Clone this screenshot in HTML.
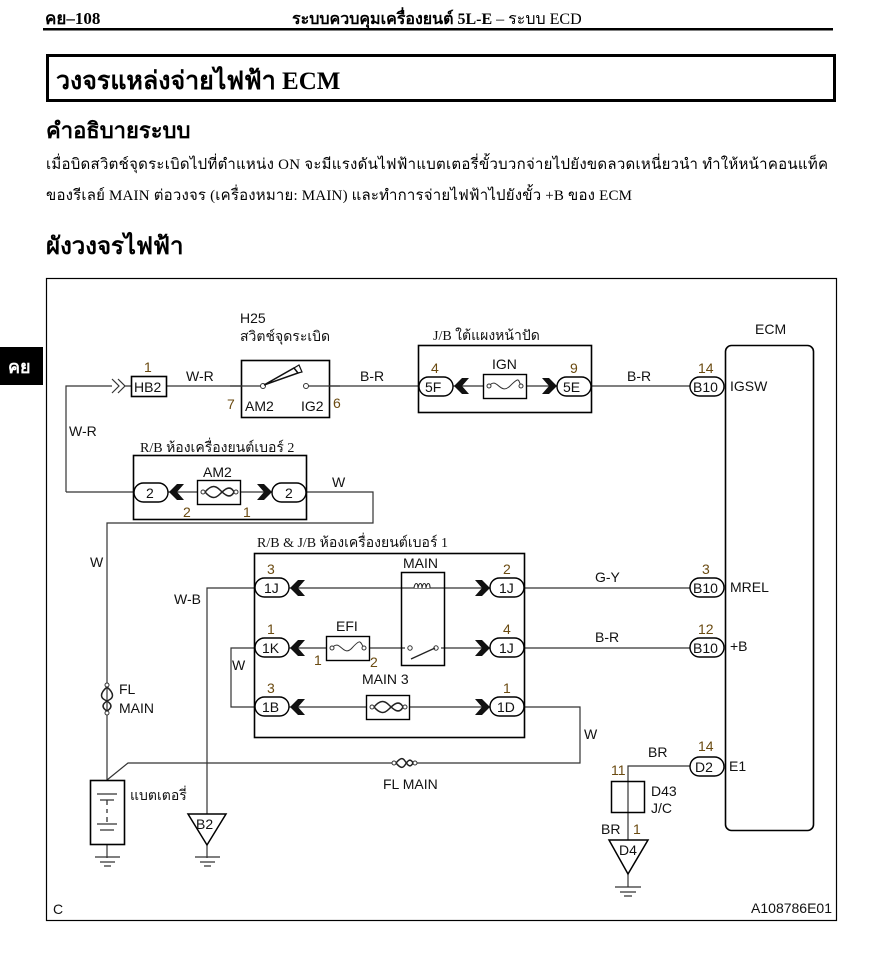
<!DOCTYPE html>
<html><head><meta charset="utf-8">
<style>
html,body{margin:0;padding:0;background:#fff;}
svg{display:block;}
.s{font-family:"Liberation Sans","Noto Sans CJK JP",sans-serif;font-size:14px;fill:#111;}
.n{font-family:"Liberation Sans",sans-serif;font-size:14px;fill:#6a4a10;}
.t{font-family:"Liberation Serif","Noto Serif CJK SC",serif;font-size:14px;fill:#111;}
</style></head>
<body>
<svg width="878" height="955" viewBox="0 0 878 955" xmlns="http://www.w3.org/2000/svg">
<defs>
<g id="chL"><path d="M0,0 L8,-8 L15,-8 L8,0 L15,8 L8,8 Z" fill="#111"/></g>
<g id="chR"><path d="M0,-8 L7,-8 L15,0 L7,8 L0,8 L7,0 Z" fill="#111"/></g>
</defs>
<!-- header -->
<text x="45" y="24" font-family="Liberation Serif,'Noto Serif CJK SC',serif" font-size="17" font-weight="bold" fill="#000">คย–108</text>
<text x="292" y="24" font-family="Liberation Serif,'Noto Serif CJK SC',serif" font-size="16" fill="#000"><tspan font-weight="bold">ระบบควบคุมเครื่องยนต์ 5L-E</tspan> – ระบบ ECD</text>
<rect x="43" y="28" width="790" height="2.5" fill="#000"/>
<rect x="47.5" y="55.5" width="787" height="45" fill="none" stroke="#000" stroke-width="3"/>
<text x="56" y="89" font-family="Liberation Serif,'Noto Serif CJK SC',serif" font-size="25" font-weight="bold" fill="#000">วงจรแหล่งจ่ายไฟฟ้า ECM</text>
<text x="46" y="138" font-family="Liberation Serif,'Noto Serif CJK SC',serif" font-size="22" font-weight="bold" fill="#000">คำอธิบายระบบ</text>
<text x="46" y="169" font-family="Liberation Serif,'Noto Serif CJK SC',serif" font-size="15" fill="#000" textLength="782">เมื่อบิดสวิตช์จุดระเบิดไปที่ตำแหน่ง ON จะมีแรงดันไฟฟ้าแบตเตอรี่ขั้วบวกจ่ายไปยังขดลวดเหนี่ยวนำ ทำให้หน้าคอนแท็ค</text>
<text x="46" y="200" font-family="Liberation Serif,'Noto Serif CJK SC',serif" font-size="15" fill="#000" textLength="586">ของรีเลย์ MAIN ต่อวงจร (เครื่องหมาย: MAIN) และทำการจ่ายไฟฟ้าไปยังขั้ว +B ของ ECM</text>
<text x="46" y="254" font-family="Liberation Serif,'Noto Serif CJK SC',serif" font-size="24" font-weight="bold" fill="#000">ผังวงจรไฟฟ้า</text>
<rect x="0" y="347" width="43" height="38" fill="#000"/>
<text x="8" y="373" font-family="Liberation Sans,'Noto Sans CJK JP',sans-serif" font-size="18" font-weight="bold" fill="#fff">คย</text>

<!-- frame -->
<rect x="46.5" y="278.5" width="790" height="642" fill="none" stroke="#000" stroke-width="1.2"/>
<text x="53" y="914" class="s" font-size="10">C</text>
<text x="832" y="913" class="s" font-size="8" text-anchor="end">A108786E01</text>

<g stroke="#333" stroke-width="1.2" fill="none">
<path d="M66,492 V386 H112"/>
<path d="M166,386 H241"/>
<path d="M329,386 H419"/>
<path d="M591,386 H690"/>
<path d="M66,492 H133"/>
<path d="M306,492 H373 V523 H107 V780"/>
<path d="M167,492 H306"/>
<path d="M453,386 H557"/>
<path d="M524,588 H690"/>
<path d="M524,648 H690"/>
<path d="M254,588 H207 V814"/>
<path d="M254,648 H231 V707 H254"/>
<path d="M524,707 H580 V763 H128 L107,780"/>
<path d="M289,588 H490"/>
<path d="M289,648 H490"/>
<path d="M289,707 H490"/>
<path d="M690,766 H628 V840"/>
<path d="M107,845 V858"/>
<path d="M207,845 V858"/>
<path d="M628,874 V887"/>
</g>
<!-- HB2 -->
<path d="M112,379 L119,386 L112,393 M118,379 L125,386 L118,393 M125,386 H131" stroke="#333" stroke-width="1.2" fill="none"/>
<rect x="131.5" y="376.5" width="35" height="20" fill="#fff" stroke="#000" stroke-width="1.6"/>
<text x="134" y="392" class="s">HB2</text>
<text x="144" y="372" class="n">1</text>
<text x="186" y="381" class="s">W-R</text>
<text x="69" y="436" class="s">W-R</text>
<!-- ignition switch -->
<rect x="241.5" y="360.5" width="88" height="57" fill="#fff" stroke="#000" stroke-width="1.6"/>
<path d="M230,386 H263 M306,386 H340" stroke="#333" stroke-width="1.2"/>
<circle cx="263" cy="386" r="2.5" fill="#fff" stroke="#333"/>
<circle cx="306" cy="386" r="2.5" fill="#fff" stroke="#333"/>
<path d="M264,385 L294,368 L298,373 Z" fill="none" stroke="#111" stroke-width="1.5"/>
<path d="M294,368 L299,365 L302,372 L298,373" fill="none" stroke="#111" stroke-width="1.2"/>
<text x="245" y="411" class="s">AM2</text>
<text x="301" y="411" class="s">IG2</text>
<text x="227" y="409" class="n">7</text>
<text x="333" y="408" class="n">6</text>
<text x="240" y="323" class="s">H25</text>
<text x="240" y="341" class="t">สวิตช์จุดระเบิด</text>
<text x="360" y="381" class="s">B-R</text>
<!-- J/B -->
<rect x="418.5" y="345.5" width="173" height="67" fill="none" stroke="#000" stroke-width="1.6"/>
<text x="433" y="340" class="t">J/B ใต้แผงหน้าปัด</text>
<rect x="419" y="377" width="34" height="19" rx="9.5" fill="#fff" stroke="#000" stroke-width="1.4"/>
<text x="425" y="392" class="s">5F</text>
<text x="431" y="373" class="n">4</text>
<use href="#chL" x="454" y="386"/>
<rect x="483.5" y="374.5" width="43" height="24" fill="#fff" stroke="#000" stroke-width="1.4"/>
<path d="M489,386 C497,376 500,396 510,386 S518,380 521,386" fill="none" stroke="#333"/>
<circle cx="489" cy="386" r="2" fill="#fff" stroke="#333"/><circle cx="521" cy="386" r="2" fill="#fff" stroke="#333"/>
<text x="492" y="369" class="s">IGN</text>
<use href="#chR" x="542" y="386"/>
<rect x="557" y="377" width="34" height="19" rx="9.5" fill="#fff" stroke="#000" stroke-width="1.4"/>
<text x="563" y="392" class="s">5E</text>
<text x="570" y="373" class="n">9</text>
<text x="627" y="381" class="s">B-R</text>
<!-- ECM -->
<rect x="725.5" y="345.5" width="88" height="485" rx="6" fill="none" stroke="#000" stroke-width="1.6"/>
<text x="755" y="334" class="s">ECM</text>
<rect x="690" y="377" width="34" height="19" rx="9.5" fill="#fff" stroke="#000" stroke-width="1.4"/>
<text x="693" y="392" class="s">B10</text>
<text x="698" y="373" class="n">14</text>
<text x="730" y="391" class="s">IGSW</text>
<rect x="690" y="578" width="34" height="19" rx="9.5" fill="#fff" stroke="#000" stroke-width="1.4"/>
<text x="693" y="593" class="s">B10</text>
<text x="702" y="574" class="n">3</text>
<text x="730" y="592" class="s">MREL</text>
<text x="595" y="582" class="s">G-Y</text>
<rect x="690" y="638" width="34" height="19" rx="9.5" fill="#fff" stroke="#000" stroke-width="1.4"/>
<text x="693" y="653" class="s">B10</text>
<text x="698" y="634" class="n">12</text>
<text x="730" y="651" class="s">+B</text>
<text x="595" y="642" class="s">B-R</text>
<rect x="690" y="757" width="34" height="19" rx="9.5" fill="#fff" stroke="#000" stroke-width="1.4"/>
<text x="695" y="772" class="s">D2</text>
<text x="698" y="751" class="n">14</text>
<text x="729" y="771" class="s">E1</text>
<text x="648" y="757" class="s">BR</text>
<!-- R/B 2 -->
<rect x="133.5" y="455.5" width="173" height="64" fill="none" stroke="#000" stroke-width="1.6"/>
<text x="140" y="452" class="t">R/B ห้องเครื่องยนต์เบอร์ 2</text>
<rect x="134" y="483" width="34" height="19" rx="9.5" fill="#fff" stroke="#000" stroke-width="1.4"/>
<text x="146" y="498" class="s">2</text>
<use href="#chL" x="169" y="492"/>
<rect x="197.5" y="480.5" width="43" height="24" fill="#fff" stroke="#000" stroke-width="1.4"/>
<path d="M205,492 C212,484 216,486 220,490 S230,500 234,492 M205,492 C212,500 216,498 220,494 S230,484 234,492" fill="none" stroke="#222" stroke-width="1.5"/>
<circle cx="203" cy="492" r="2" fill="#fff" stroke="#333"/><circle cx="236" cy="492" r="2" fill="#fff" stroke="#333"/>
<text x="203" y="477" class="s">AM2</text>
<use href="#chR" x="257" y="492"/>
<rect x="272" y="483" width="34" height="19" rx="9.5" fill="#fff" stroke="#000" stroke-width="1.4"/>
<text x="285" y="498" class="s">2</text>
<text x="183" y="517" class="n">2</text>
<text x="243" y="517" class="n">1</text>
<text x="332" y="487" class="s">W</text>
<text x="90" y="567" class="s">W</text>
<!-- FL main vertical fuse -->
<circle cx="107" cy="685" r="2" fill="#fff" stroke="#333"/><circle cx="107" cy="713" r="2" fill="#fff" stroke="#333"/>
<path d="M107,687 C99,694 101,698 105,700 S115,706 107,711 M107,687 C115,694 113,698 109,700 S99,706 107,711" fill="none" stroke="#222" stroke-width="1.5"/>
<text x="119" y="694" class="s">FL</text>
<text x="119" y="713" class="s">MAIN</text>
<!-- battery -->
<rect x="90.5" y="780.5" width="34" height="64" fill="#fff" stroke="#000" stroke-width="1.6"/>
<path d="M97,794 H117 M100,800 H114 M107,800 V805 M107,809 V813 M107,817 V822 M97,824 H117 M100,830 H114" stroke="#333" stroke-width="1.3"/>
<text x="130" y="800" class="t">แบตเตอรี่</text>
<path d="M95,857 H120 M100,862 H115 M104,866 H111" stroke="#333" stroke-width="1.3"/>
<!-- B2 ground -->
<path d="M188,814 H226 L207,845 Z" fill="#fff" stroke="#000" stroke-width="1.5"/>
<text x="196" y="829" class="s">B2</text>
<path d="M195,857 H220 M200,862 H215 M204,866 H211" stroke="#333" stroke-width="1.3"/>
<text x="174" y="604" class="s">W-B</text>
<!-- FL MAIN horizontal -->
<circle cx="394" cy="763" r="2" fill="#fff" stroke="#333"/><circle cx="415" cy="763" r="2" fill="#fff" stroke="#333"/>
<path d="M396,763 C401,757 403,758 405,761 S410,769 413,763 M396,763 C401,769 403,768 405,765 S410,757 413,763" fill="#fff" stroke="#222" stroke-width="1.5"/>
<text x="383" y="789" class="s">FL MAIN</text>
<!-- R/B & J/B -->
<rect x="254.5" y="553.5" width="270" height="184" fill="none" stroke="#000" stroke-width="1.6"/>
<text x="257" y="547" class="t">R/B &amp; J/B ห้องเครื่องยนต์เบอร์ 1</text>
<rect x="255" y="578" width="34" height="19" rx="9.5" fill="#fff" stroke="#000" stroke-width="1.4"/>
<text x="264" y="593" class="s">1J</text><text x="267" y="574" class="n">3</text>
<use href="#chL" x="290" y="588"/>
<rect x="255" y="638" width="34" height="19" rx="9.5" fill="#fff" stroke="#000" stroke-width="1.4"/>
<text x="262" y="653" class="s">1K</text><text x="267" y="634" class="n">1</text>
<use href="#chL" x="290" y="648"/>
<rect x="255" y="697" width="34" height="19" rx="9.5" fill="#fff" stroke="#000" stroke-width="1.4"/>
<text x="262" y="712" class="s">1B</text><text x="267" y="693" class="n">3</text>
<use href="#chL" x="290" y="707"/>
<use href="#chR" x="475" y="588"/>
<rect x="490" y="578" width="34" height="19" rx="9.5" fill="#fff" stroke="#000" stroke-width="1.4"/>
<text x="499" y="593" class="s">1J</text><text x="503" y="574" class="n">2</text>
<use href="#chR" x="475" y="648"/>
<rect x="490" y="638" width="34" height="19" rx="9.5" fill="#fff" stroke="#000" stroke-width="1.4"/>
<text x="499" y="653" class="s">1J</text><text x="503" y="634" class="n">4</text>
<use href="#chR" x="475" y="707"/>
<rect x="490" y="697" width="34" height="19" rx="9.5" fill="#fff" stroke="#000" stroke-width="1.4"/>
<text x="497" y="712" class="s">1D</text><text x="503" y="693" class="n">1</text>
<!-- MAIN relay -->
<rect x="401.5" y="572.5" width="43" height="93" fill="none" stroke="#000" stroke-width="1.5"/>
<text x="403" y="568" class="s">MAIN</text>
<path d="M414,588 c1,-6 4,-6 4,0 c1,-6 4,-6 4,0 c1,-6 4,-6 4,0 c1,-6 4,-6 4,0" fill="#fff" stroke="#222" stroke-width="1.1"/>
<rect x="405" y="646" width="36" height="4" fill="#fff"/>
<circle cx="410" cy="648" r="2.2" fill="#fff" stroke="#333"/><circle cx="436" cy="648" r="2.2" fill="#fff" stroke="#333"/>
<path d="M411,659 L435,648" stroke="#222" stroke-width="1.3"/>
<!-- EFI -->
<rect x="326.5" y="636.5" width="43" height="24" fill="#fff" stroke="#000" stroke-width="1.4"/>
<path d="M332,648 C340,638 343,658 352,648 S360,642 364,648" fill="none" stroke="#333"/>
<circle cx="332" cy="648" r="2" fill="#fff" stroke="#333"/><circle cx="364" cy="648" r="2" fill="#fff" stroke="#333"/>
<text x="336" y="631" class="s">EFI</text>
<text x="314" y="665" class="n">1</text>
<text x="370" y="667" class="n">2</text>
<text x="232" y="670" class="s">W</text>
<!-- MAIN 3 -->
<rect x="366.5" y="695.5" width="43" height="24" fill="#fff" stroke="#000" stroke-width="1.4"/>
<path d="M374,707 C381,699 385,701 389,705 S399,715 403,707 M374,707 C381,715 385,713 389,709 S399,699 403,707" fill="none" stroke="#222" stroke-width="1.5"/>
<circle cx="372" cy="707" r="2" fill="#fff" stroke="#333"/><circle cx="405" cy="707" r="2" fill="#fff" stroke="#333"/>
<text x="362" y="684" class="s">MAIN 3</text>
<text x="584" y="739" class="s">W</text>
<!-- J/C -->
<rect x="611.5" y="781.5" width="33" height="31" fill="none" stroke="#000" stroke-width="1.5"/>
<text x="611" y="775" class="n">11</text>
<text x="651" y="796" class="s">D43</text>
<text x="651" y="813" class="s">J/C</text>
<text x="601" y="834" class="s">BR</text>
<text x="633" y="834" class="n">1</text>
<path d="M609,840 H648 L628,874 Z" fill="#fff" stroke="#000" stroke-width="1.5"/>
<text x="619" y="855" class="s">D4</text>
<path d="M615,887 H641 M620,892 H636 M624,896 H632" stroke="#333" stroke-width="1.3"/>
</svg>
</body></html>
